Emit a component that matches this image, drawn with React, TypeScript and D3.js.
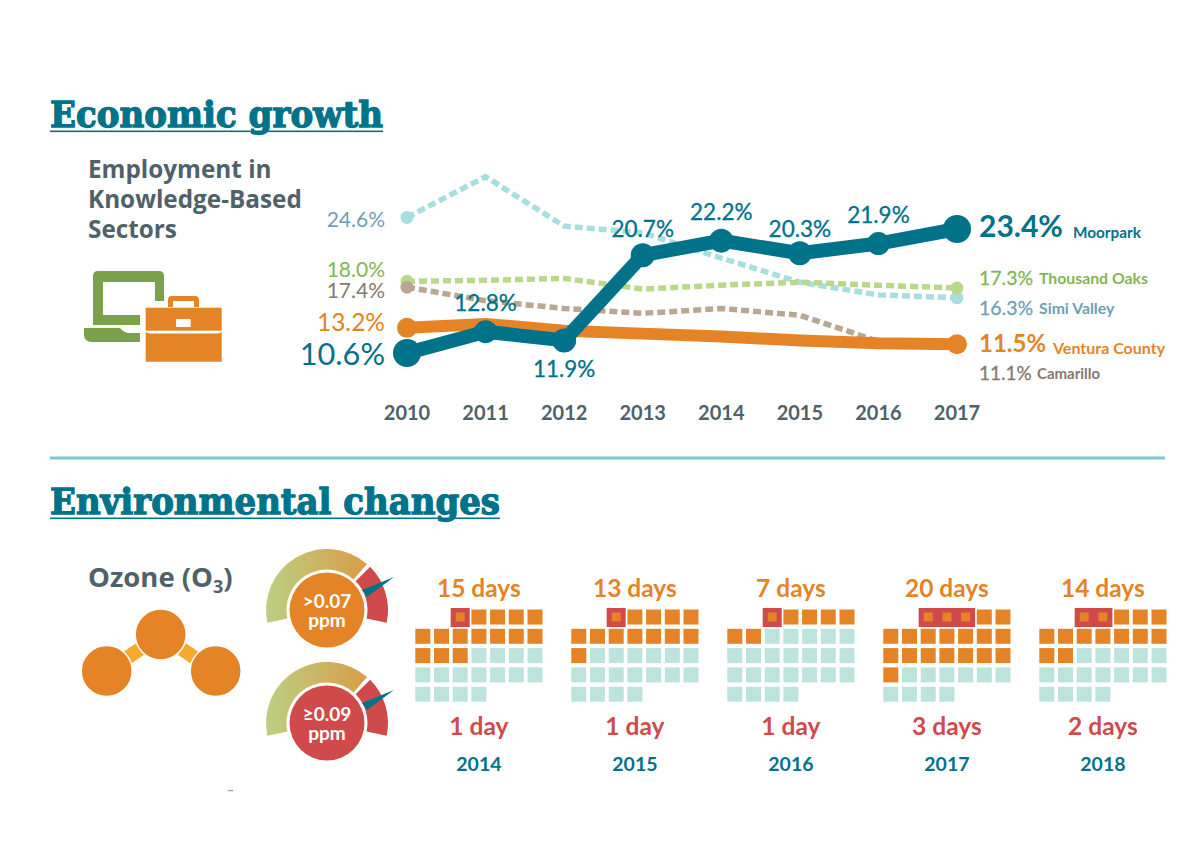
import React from "react";
import * as d3 from "d3";

const years = [2010, 2011, 2012, 2013, 2014, 2015, 2016, 2017];
const moorpark = [10.6, 12.8, 11.9, 20.7, 22.2, 20.9, 21.9, 23.4];
const moorparkLabels = ["10.6%", "12.8%", "11.9%", "20.7%", "22.2%", "20.3%", "21.9%", "23.4%"];
const ventura = [13.2, 13.6, 12.9, 12.6, 12.3, 11.9, 11.6, 11.5];
const thousandOaks = [18.0, 18.1, 18.3, 17.2, 17.6, 17.9, 17.6, 17.3];
const simiValley = [24.6, 28.8, 23.7, 23.0, 20.4, 17.9, 16.6, 16.3];
const camarillo = [17.4, 16.0, 15.2, 14.7, 15.2, 14.5, 11.8, 11.5];

const ozoneYears = [2014, 2015, 2016, 2017, 2018];
const daysOver07 = [15, 13, 7, 20, 14];
const daysOver09 = [1, 1, 1, 3, 2];
const daysOver07Labels = ["15 days", "13 days", "7 days", "20 days", "14 days"];
const daysOver09Labels = ["1 day", "1 day", "1 day", "3 days", "2 days"];
const gaugeLabels = [[">0.07", "ppm"], ["≥0.09", "ppm"]];
const monthDays = 30;
const firstColumn = 2;

const TEAL = "#00728a", ORANGE = "#e58426", RED = "#d14a4b", MINT = "#bce3dc", GREY = "#4f6169";
const FONT = "Lato, 'Open Sans', sans-serif";
const HEAD = "'Open Sans', Lato, sans-serif";
const SLAB = "'DejaVu Serif', serif";

const x = d3.scaleLinear().domain([2010, 2017]).range([407, 957]);
const y = d3.scaleLinear().domain([10.6, 23.4]).range([353, 229]);
const line = d3.line<number>().x((_, i) => x(years[i])).y((d) => y(d));

const gridX = d3.scaleLinear().domain([0, 4]).range([415.3, 1039.3]);
const PITCH = 18.7;
const ROW = 19.3;
const CELL = 15;

const arc = d3.arc<any>().innerRadius(40.5).outerRadius(61);

function T(p: any) {
  const { children, ...rest } = p;
  return <text fontFamily={FONT} {...rest}>{children}</text>;
}

function DashedSeries({ values, color }: { values: number[]; color: string }) {
  return (
    <g>
      <path d={line(values)!} fill="none" stroke={color} strokeWidth={5.5} strokeDasharray="8 4" />
      <circle cx={x(2010)} cy={y(values[0])} r={6.5} fill={color} />
      <circle cx={x(2017)} cy={y(values[values.length - 1])} r={6.5} fill={color} />
    </g>
  );
}

function Gauge({ cy, fill, label }: { cy: number; fill: string; label: string[] }) {
  const cx = 327;
  const deg = Math.PI / 180;
  return (
    <g>
      <g transform={`translate(${cx},${cy})`}>
        <path d={arc({ startAngle: -102 * deg, endAngle: 41 * deg })!} fill="url(#gaugeGrad)" />
        <path d={arc({ startAngle: 45 * deg, endAngle: 102 * deg })!} fill={RED} />
        <circle r={37.5} fill={fill} />
        <path d="M 35,-20 L 67,-33 L 40,-13 Z" fill={TEAL} />
      </g>
      <T x={cx} y={cy - 2} textAnchor="middle" fontSize={19} fontWeight={700} fill="#fff">{label[0]}</T>
      <T x={cx} y={cy + 17} textAnchor="middle" fontSize={19} fontWeight={700} fill="#fff">{label[1]}</T>
    </g>
  );
}

function MonthGrid({ index }: { index: number }) {
  const ox = gridX(index);
  const oy = 609.5;
  const over = daysOver07[index];
  const high = daysOver09[index];
  const cells = d3.range(monthDays).map((i) => {
    const pos = i + firstColumn;
    return { i, c: pos % 7, r: Math.floor(pos / 7) };
  });
  const cx = ox + PITCH * 3.5 - (PITCH - CELL) / 2;
  return (
    <g>
      <T x={cx} y={597} textAnchor="middle" fontSize={24.5} fontWeight={700} fill={ORANGE}>{daysOver07Labels[index]}</T>
      <rect x={ox + firstColumn * PITCH - 2} y={oy - 1.5} width={high * PITCH - PITCH + CELL + 4} height={CELL + 4} fill={RED} />
      {cells.map((d) => {
        const px = ox + d.c * PITCH;
        const py = oy + d.r * ROW;
        if (d.i < high) return <rect key={d.i} x={px + 3} y={py + 3} width={CELL - 6} height={CELL - 6} fill={ORANGE} />;
        return <rect key={d.i} x={px} y={py} width={CELL} height={CELL} fill={d.i < over ? ORANGE : MINT} />;
      })}
      <T x={cx} y={735} textAnchor="middle" fontSize={24.5} fontWeight={700} fill={RED}>{daysOver09Labels[index]}</T>
      <T x={cx} y={771} textAnchor="middle" fontSize={19.5} fontWeight={700} fill={TEAL}>{ozoneYears[index]}</T>
    </g>
  );
}

export default function App() {
  const bigDots = [14, 11.5, 12, 12, 12, 12, 11.5, 14];
  const labelOffset = [
    null,
    [0, -21],
    [0, 37],
    [0, -18],
    [0, -21],
    [0, -16],
    [0, -21],
    null,
  ];
  return (
    <svg width={1184} height={846} style={{ position: "absolute", left: 0, top: 0, background: "#fff" }}>
      <defs>
        <linearGradient id="gaugeGrad" x1="0" x2="1" y1="0" y2="0">
          <stop offset="0" stopColor="#bccf83" />
          <stop offset="1" stopColor="#d99d47" />
        </linearGradient>
      </defs>

      <text x={50} y={127} fontFamily={SLAB} fontWeight={700} fontSize={35} fill={TEAL} stroke={TEAL} strokeWidth={1.3} textLength={333} lengthAdjust="spacingAndGlyphs">Economic growth</text>
      <rect x={50} y={130.5} width={333} height={1.6} fill={TEAL} />
      <text x={88} y={178} fontFamily={HEAD} fontSize={24.3} fontWeight={700} fill={GREY}>Employment in</text>
      <text x={88} y={208} fontFamily={HEAD} fontSize={24.3} fontWeight={700} fill={GREY}>Knowledge-Based</text>
      <text x={88} y={238} fontFamily={HEAD} fontSize={24.3} fontWeight={700} fill={GREY}>Sectors</text>

      {/* laptop */}
      <path d="M93,276 Q93,271 98,271 H159 Q164,271 164,276 V301 H155 V282 H103 V315 H140 V325 H93 Z" fill="#7ba24a" />
      <path d="M84,328 H120 Q124,333 130,333 H140 V342 H92 Q84,342 84,334 Z" fill="#7ba24a" />
      {/* briefcase */}
      <path d="M168,307 V300 Q168,296 172,296 H195 Q199,296 199,300 V307 H194 V301 H173 V307 Z" fill={ORANGE} />
      <rect x={145.7} y={307.7} width={76} height={23} fill={ORANGE} />
      <path d="M145.7,332 Q148,333.5 151,333.5 H216 Q219.7,333.5 221.7,332 V361.7 H145.7 Z" fill={ORANGE} />
      <rect x={176} y={319} width={14.7} height={8} fill="#fff" />

      {/* series */}
      <DashedSeries values={simiValley} color="#a8dedd" />
      <DashedSeries values={thousandOaks} color="#b9d88a" />
      <DashedSeries values={camarillo} color="#b9a793" />
      <path d={line(ventura)!} fill="none" stroke={ORANGE} strokeWidth={12} />
      <circle cx={x(2010)} cy={y(ventura[0])} r={10} fill={ORANGE} />
      <circle cx={x(2017)} cy={y(ventura[7])} r={10} fill={ORANGE} />
      <path d={line(moorpark)!} fill="none" stroke={TEAL} strokeWidth={14} strokeLinejoin="round" />
      {moorpark.map((v, i) => (
        <circle key={i} cx={x(years[i])} cy={y(v)} r={bigDots[i]} fill={TEAL} />
      ))}
      {moorparkLabels.map((l, i) => {
        const o = labelOffset[i];
        return o ? (
          <T key={l} x={x(years[i]) + o[0]} y={y(moorpark[i]) + o[1]} textAnchor="middle" fontSize={22.5} fontWeight={400} fill={TEAL} stroke={TEAL} strokeWidth={0.3}>{l}</T>
        ) : null;
      })}
      {years.map((yr) => (
        <T key={yr} x={x(yr)} y={420} textAnchor="middle" fontSize={20} fontWeight={700} fill={GREY}>{yr}</T>
      ))}

      {/* start labels */}
      <T x={385} y={227} textAnchor="end" fontSize={21} fill="#6f9fb5">24.6%</T>
      <T x={385} y={277} textAnchor="end" fontSize={21} fill="#85b556">18.0%</T>
      <T x={385} y={298} textAnchor="end" fontSize={21} fill="#857a70">17.4%</T>
      <T x={385} y={331} textAnchor="end" fontSize={24.5} fill={ORANGE}>13.2%</T>
      <T x={385} y={365} textAnchor="end" fontSize={30.7} fill={TEAL}>10.6%</T>

      {/* end labels */}
      <T x={979} y={237} fontSize={30} fontWeight={700} fill={TEAL}>23.4%</T>
      <T x={1073} y={238} fontSize={15.3} fontWeight={700} fill={TEAL}>Moorpark</T>
      <T x={979} y={285} fontSize={19.5} fontWeight={400} stroke="#85b556" strokeWidth={0.3} fill="#85b556">17.3%</T>
      <T x={1039} y={284} fontSize={15.8} fontWeight={700} fill="#85b556">Thousand Oaks</T>
      <T x={979} y={315} fontSize={19.5} fontWeight={400} stroke="#6f9fb5" strokeWidth={0.3} fill="#6f9fb5">16.3%</T>
      <T x={1039} y={314} fontSize={15.8} fontWeight={700} fill="#6f9fb5">Simi Valley</T>
      <T x={979} y={352} fontSize={24} fontWeight={700} fill={ORANGE}>11.5%</T>
      <T x={1053} y={354} fontSize={16} fontWeight={700} fill={ORANGE}>Ventura County</T>
      <T x={979} y={380} fontSize={19} fontWeight={400} stroke="#857a70" strokeWidth={0.3} fill="#857a70">11.1%</T>
      <T x={1037} y={379} fontSize={15} fontWeight={700} fill="#857a70">Camarillo</T>

      <rect x={50} y={456.5} width={1115} height={3} fill="#7ccbc9" />

      <text x={50} y={514} fontFamily={SLAB} fontWeight={700} fontSize={35} fill={TEAL} stroke={TEAL} strokeWidth={1.3} textLength={450} lengthAdjust="spacingAndGlyphs">Environmental changes</text>
      <rect x={50} y={517.5} width={450} height={1.6} fill={TEAL} />

      <text x={88} y={587} fontFamily={HEAD} fontSize={27.5} fontWeight={700} fill={GREY}>Ozone (O<tspan fontSize={18} dy={6}>3</tspan><tspan dy={-6}>)</tspan></text>

      <g transform="rotate(-35 133.5 653.5)"><rect x={125.5} y={646.5} width={16} height={14} fill="#f5ab2f" /></g>
      <g transform="rotate(35 188.5 653.5)"><rect x={180.5} y={646.5} width={16} height={14} fill="#f5ab2f" /></g>
      <circle cx={160.7} cy={634.5} r={25.5} fill={ORANGE} stroke="#fff" strokeWidth={1.5} />
      <circle cx={106.7} cy={671} r={25.5} fill={ORANGE} stroke="#fff" strokeWidth={1.5} />
      <circle cx={215.7} cy={671} r={25.5} fill={ORANGE} stroke="#fff" strokeWidth={1.5} />

      <Gauge cy={610} fill={ORANGE} label={gaugeLabels[0]} />
      <Gauge cy={723} fill={RED} label={gaugeLabels[1]} />

      {ozoneYears.map((_, i) => <MonthGrid key={i} index={i} />)}
      <rect x={228} y={790} width={5} height={1.2} fill="#999" />
    </svg>
  );
}
